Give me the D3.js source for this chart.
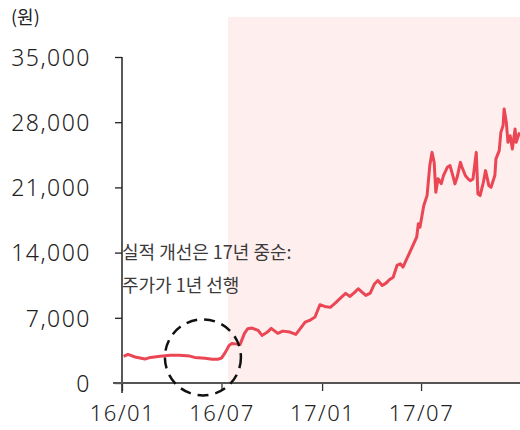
<!DOCTYPE html>
<html>
<head>
<meta charset="utf-8">
<script src="https://cdn.jsdelivr.net/npm/d3@7"></script>
<style>
  body { margin: 0; background: #fff; }
  svg text { font-family: "Noto Sans CJK KR", "Noto Sans", sans-serif; }
  svg .tick text { font-family: "Noto Sans", "Noto Sans CJK KR", sans-serif; font-weight: 300; }
</style>
</head>
<body>
<div id="chart"></div>
<script>
// price series (원)
const dates = [
  '2016-01-04','2016-01-12','2016-01-25','2016-02-12','2016-02-22','2016-03-11','2016-03-29','2016-04-15',
  '2016-05-04','2016-05-13','2016-06-01','2016-06-14','2016-06-24','2016-07-01','2016-07-08','2016-07-15',
  '2016-07-20','2016-07-26','2016-08-04','2016-08-12','2016-08-18','2016-08-26','2016-09-06','2016-09-13',
  '2016-09-23','2016-09-30','2016-10-12','2016-10-21','2016-11-03','2016-11-14','2016-11-22','2016-12-01',
  '2016-12-09','2016-12-19','2016-12-28','2017-01-06','2017-01-16','2017-01-25','2017-02-03','2017-02-13',
  '2017-02-21','2017-03-02','2017-03-08','2017-03-15','2017-03-22','2017-03-30','2017-04-07','2017-04-13',
  '2017-04-21','2017-04-28','2017-05-04','2017-05-11','2017-05-18','2017-05-24','2017-05-29','2017-06-05',
  '2017-06-12','2017-06-16','2017-06-23','2017-06-26','2017-06-29','2017-07-06','2017-07-12','2017-07-17',
  '2017-07-19','2017-07-21','2017-07-25','2017-07-28','2017-08-01','2017-08-07','2017-08-11','2017-08-18',
  '2017-08-23','2017-08-29','2017-09-01','2017-09-05','2017-09-11','2017-09-14','2017-09-20','2017-09-25',
  '2017-09-29','2017-10-04','2017-10-10','2017-10-13','2017-10-17','2017-10-23','2017-10-27','2017-11-02',
  '2017-11-06','2017-11-13','2017-11-15','2017-11-21','2017-11-24','2017-11-28','2017-11-30','2017-12-04',
  '2017-12-07','2017-12-11','2017-12-15','2017-12-20','2017-12-22','2017-12-28'
];
const prices = [
  2860, 3080, 2790, 2570, 2750, 2860, 2970, 2970,
  2890, 2750, 2650, 2540, 2540, 2680, 3290, 4040,
  4250, 4200, 4150, 5330, 5830, 5900, 5650, 5110,
  5470, 5860, 5330, 5570, 5470, 5220, 5830, 6540,
  6720, 7080, 8400, 8220, 8120, 8580, 9080, 9620,
  9290, 9760, 10120, 9760, 9400, 9650, 10660, 11010,
  10470, 10720, 11080, 11360, 12620, 12800, 12440, 13340,
  14230, 14760, 15650, 17090, 16720, 19050, 20120, 23340,
  24060, 24760, 23690, 20480, 21940, 21410, 22270, 23160,
  23340, 22080, 21380, 22080, 23690, 23160, 22270, 21910,
  21730, 21910, 24760, 20300, 20120, 21550, 22800, 21190,
  21010, 22270, 24060, 24950, 26910, 27630, 29420, 27980,
  25840, 26550, 25130, 27270, 25840, 26910
];

const yTicks = [0, 7000, 14000, 21000, 28000, 35000];
const xTicks = ['2016-01-01', '2016-07-01', '2017-01-01', '2017-07-01'];
const xTickLabels = ['16/01', '16/07', '17/01', '17/07'];

const unitLabel = '(원)';
const noteLines = ['실적 개선은 17년 중순:', '주가가 1년 선행'];
const shadeStart = '2016-07-13';
const circleCenter = { date: '2016-05-28', value: 2750 };

const parse = d3.timeParse('%Y-%m-%d');
const data = dates.map((d, i) => ({ date: parse(d), value: prices[i] }));

const width = 520, height = 430;
const margin = { top: 57, right: 0, bottom: 47, left: 122 };

const svg = d3.select('#chart')
  .append('svg')
  .attr('width', width)
  .attr('height', height);

const x = d3.scaleTime()
  .domain([parse('2016-01-01'), parse('2017-12-29')])
  .range([margin.left, width - margin.right]);

const y = d3.scaleLinear()
  .domain([0, 35000])
  .range([height - margin.bottom, margin.top]);

// shaded period
svg.append('rect')
  .attr('x', x(parse(shadeStart)))
  .attr('y', 17)
  .attr('width', width - x(parse(shadeStart)))
  .attr('height', y(0) - 17)
  .attr('fill', '#ffeeee');

// y axis
const yAxis = d3.axisLeft(y)
  .tickValues(yTicks)
  .tickSize(7)
  .tickSizeOuter(0)
  .tickPadding(24)
  .tickFormat(d3.format(','));

const yAxisGroup = svg.append('g')
  .attr('transform', `translate(${margin.left},0)`)
  .call(yAxis);
yAxisGroup.select('.domain').remove();
yAxisGroup.selectAll('line').attr('stroke', '#222').attr('stroke-width', 1.3);
yAxisGroup.selectAll('text')
  .attr('font-size', 23)
  .attr('fill', '#222')
  .attr('letter-spacing', 1.5)
  .attr('dy', '0.36em');

svg.append('line')
  .attr('x1', margin.left).attr('x2', margin.left)
  .attr('y1', y(35000)).attr('y2', y(0) + 10)
  .attr('stroke', '#222').attr('stroke-width', 1.5);

// x axis
const xAxis = d3.axisBottom(x)
  .tickValues(xTicks.map(parse))
  .tickSize(8)
  .tickSizeOuter(0)
  .tickPadding(14)
  .tickFormat((d, i) => xTickLabels[i]);

const xAxisGroup = svg.append('g')
  .attr('transform', `translate(0,${y(0)})`)
  .call(xAxis);
xAxisGroup.select('.domain').remove();
xAxisGroup.selectAll('line').attr('stroke', '#333').attr('stroke-width', 1.3);
xAxisGroup.selectAll('text')
  .attr('font-size', 22)
  .attr('fill', '#222')
  .attr('letter-spacing', 1.5);

svg.append('line')
  .attr('x1', margin.left - 9).attr('x2', width)
  .attr('y1', y(0)).attr('y2', y(0))
  .attr('stroke', '#555').attr('stroke-width', 2);

// price line
const line = d3.line()
  .x(d => x(d.date))
  .y(d => y(d.value));

svg.append('path')
  .datum(data)
  .attr('fill', 'none')
  .attr('stroke', '#ea4654')
  .attr('stroke-width', 3)
  .attr('stroke-linejoin', 'round')
  .attr('d', line);

// dashed circle
svg.append('circle')
  .attr('cx', x(parse(circleCenter.date)))
  .attr('cy', y(circleCenter.value))
  .attr('r', 38)
  .attr('fill', 'none')
  .attr('stroke', '#111')
  .attr('stroke-width', 2.5)
  .attr('stroke-dasharray', '11,7');

// unit label
svg.append('text')
  .attr('x', 11)
  .attr('y', 24)
  .attr('font-size', 18)
  .attr('fill', '#222')
  .text(unitLabel);

// note
svg.selectAll('.note')
  .data(noteLines)
  .join('text')
  .attr('class', 'note')
  .attr('x', margin.left)
  .attr('y', (d, i) => 259 + i * 33)
  .attr('font-size', 18)
  .attr('fill', '#3a3a3a')
  .text(d => d);
</script>
</body>
</html>
